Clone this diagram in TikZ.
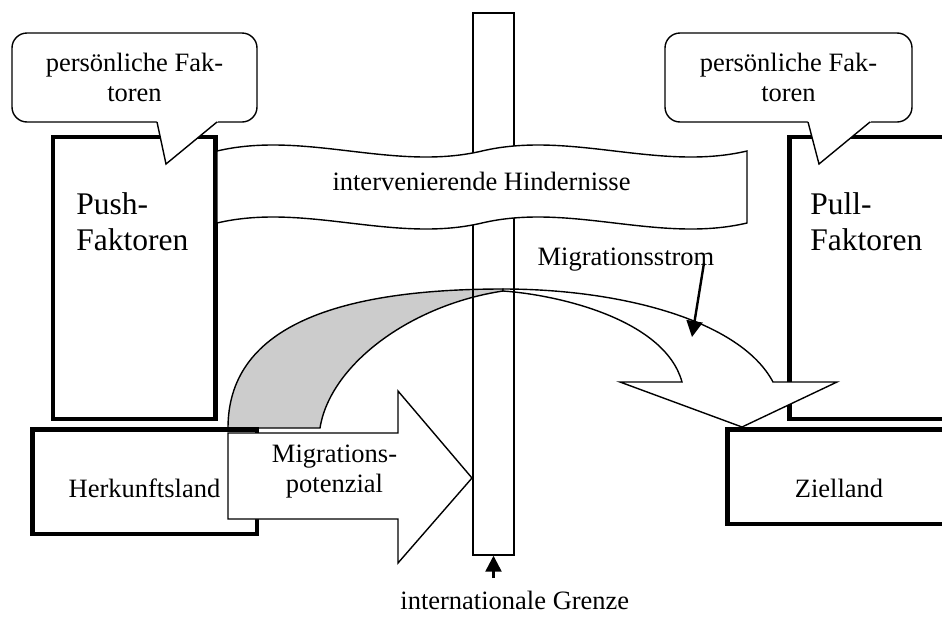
\documentclass[tikz,border=0pt]{standalone}
\usepackage{fontspec}
\setmainfont{Liberation Serif}
\usetikzlibrary{arrows.meta}
\definecolor{bandgray}{RGB}{204,204,204}
\tikzset{
  thinline/.style={line width=0.7pt},
  thickbox/.style={line width=2.15pt},
  smalltext/.style={font=\fontsize{13.25}{14.75}\selectfont, inner sep=0pt},
  bigtext/.style={font=\fontsize{15.75}{17.8}\selectfont, inner sep=0pt, align=left},
  bubble/.style={draw, fill=white, line width=0.7pt, rounded corners=7.5pt},
  pointer/.style={line width=1.2pt, -{Triangle[length=8pt,width=8pt]}},
}
\begin{document}
\begin{tikzpicture}[x=0.5pt,y=-0.5pt]
\useasboundingbox (0,0) rectangle (942,616);
% Push / Pull boxes
\draw[thickbox] (53,137) rectangle (215.5,419);
\draw[thickbox] (789.5,137) rectangle (960,419);
% curved migration arrow
\filldraw[thinline, fill=bandgray] (228,428) .. controls (228,330) and (330,289) .. (503,289)
  -- (503,291) .. controls (410,305) and (330,365) .. (320,428) -- cycle;
\filldraw[thinline, fill=white] (503,289) .. controls (620,289) and (740,320) .. (773,382)
  -- (837,382) -- (742,427) -- (620,382) -- (682,382)
  .. controls (665,320) and (560,295) .. (503,291) -- cycle;
% country boxes
\draw[thickbox] (32.5,429.5) rectangle (257,534);
\draw[thickbox] (727.5,429.5) rectangle (951,524);
% border bar
\node[draw, thinline, inner sep=0pt, minimum width=20.5pt, minimum height=271pt] (bar) at (493.5,284) {};
% banner
\filldraw[thinline, fill=white] (217,151) .. controls (305.3,130.2) and (393.7,171.8) .. (482,151)
  .. controls (570.3,130.2) and (658.7,171.8) .. (747,151) -- (747,223)
  .. controls (658.7,243.8) and (570.3,202.2) .. (482,223)
  .. controls (393.7,243.8) and (305.3,202.2) .. (217,223) -- cycle;
\node[smalltext, anchor=base] (hind) at (481.5,190) {intervenierende Hindernisse};
% migration potential arrow
\filldraw[thinline, fill=white] (228,433) -- (398,433) -- (398,391) -- (472,478)
  -- (398,563) -- (398,519) -- (228,519) -- cycle;
% bubbles
\filldraw[bubble] (12,33) rectangle (257,122);
\fill[white] (156.57,120) -- (166,164) -- (219.43,120) -- cycle;
\draw[thinline] (157,122) -- (166,164) -- (217,122);
\filldraw[bubble] (665,33) rectangle (912,122);
\fill[white] (807.48,120) -- (819,164) -- (872.43,120) -- cycle;
\draw[thinline] (808,122) -- (819,164) -- (870,122);
% texts
\node[smalltext, align=center] (pfl) at (134.5,77.5) {persönliche Fak-\\toren};
\node[smalltext, align=center] (pfr) at (788.5,77.5) {persönliche Fak-\\toren};
\node[bigtext, anchor=west] (push) at (76,222) {Push-\\Faktoren};
\node[bigtext, anchor=west] (pull) at (810,222) {Pull-\\Faktoren};
\node[smalltext, anchor=base] (herk) at (144.5,497) {Herkunftsland};
\node[smalltext, anchor=base] (ziel) at (839,497) {Zielland};
\node[smalltext, align=center] (pot) at (334.5,471.7) {Migrations-\\potenzial};
\node[smalltext, anchor=base] (strom) at (626,265) {Migrationsstrom};
\node[smalltext, anchor=base west] (grenze) at (400,609) {internationale Grenze};
% pointers
\coordinate (stromtail) at (704,263);
\coordinate (stromtip) at (692,337);
\draw[pointer] (stromtail) -- (stromtip);
\coordinate (grenzetail) at (493.5,578);
\draw[pointer] (grenzetail) -- (bar.south);
\end{tikzpicture}
\end{document}
